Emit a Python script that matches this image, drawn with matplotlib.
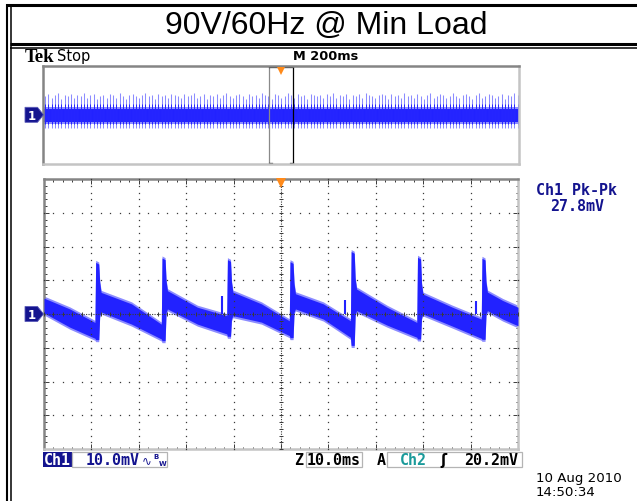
import numpy as np
import matplotlib
matplotlib.use("Agg")
import matplotlib.pyplot as plt
from matplotlib.patches import Rectangle, Polygon

# ---------------- acquisition data ----------------
# main (zoomed) window: 10 ms/div, 10 mV/div, 100 ms across the screen
spike_ms      = [10.9, 24.9, 38.7, 51.9, 64.8, 78.8, 92.4]
spike_peak_mv = [15.3, 16.6, 16.1, 15.5, 18.5, 16.8, 16.5]
spike_foot_mv = [-7.6, -7.9, -6.6, -7.0, -9.3, -7.4, -7.5]
pre_top_mv    = [-2.5, -3.0, -0.5, -2.0, -2.0, -2.5, -1.5]
pre_bot_mv    = [-7.2, -7.4, -5.9, -6.4, -6.9, -6.9, -7.2]
post_top_mv   = [6.4, 6.9, 6.5, 6.0, 7.4, 5.9, 6.5]
post_bot_mv   = [0.6, 1.5, -0.5, 1.5, 1.0, 0.0, 1.0]
# ripple band half-way through each segment (segment 0 is before the first spike)
mid_top_mv    = [1.5, 3.0, 2.0, 3.0, 3.0, 2.0, 2.0, 4.0]
mid_bot_mv    = [-3.9, -3.0, -3.0, -2.4, -1.5, -3.3, -3.6, -1.5]
start_band_mv = [4.7, 0.3]
end_band_mv   = [2.0, -3.5]
precursor_ms  = [37.5, 63.5, 91.1]
precursor_mv  = [5.3, 4.1, 4.0]

# record overview: 200 ms/div, 2 s record
overview_first_spike_ms = 8.9
overview_period_ms = 13.6
overview_peak_mv = [
    15, 17, 14, 16, 18, 13, 16, 15, 17, 14, 16, 15, 18, 14, 16, 17, 13, 15, 16, 14, 17,
    16, 14, 18, 15, 13, 16, 17, 15, 14, 16, 18, 15, 16, 13, 17, 15, 16, 14, 17, 16, 15,
    14, 17, 15, 16, 18, 14, 15, 17, 13, 16, 15, 17, 14, 16, 18, 15, 14, 16, 17, 15, 13,
    17, 15, 16, 14, 18, 16, 15, 13, 17, 16, 14, 15, 18, 16, 14, 17, 15, 16, 13, 17, 16,
    15, 16, 14, 17, 15, 18, 14, 16, 15, 17, 13, 16, 15, 17, 14, 18, 16, 15, 14, 16, 17,
    16, 13, 17, 15, 16, 14, 18, 15, 16, 14, 17, 15, 13, 16, 18, 14, 15, 17, 16, 14, 15,
    18, 15, 14, 16, 17, 15, 13, 16, 18, 14, 15, 17, 16, 14, 15, 17, 13, 16, 15, 18, 16,
]
overview_band_mv = [-6.0, 5.0]
zoom_window_ms = [950, 1050]

# ---------------- styling ----------------
TRACE = "#2222ff"
TRACE_LIGHT = "#8c8cff"
NAVY = "#14148f"
TEAL = "#1a9a9a"
ORANGE = "#ff8a1a"
GRID = "#3a3a3a"

W, H = 637, 502
fig = plt.figure(figsize=(W / 100, H / 100), dpi=100)
fig.patch.set_facecolor("white")


def px_axes(l, t, r, b, **kw):
    return fig.add_axes([l / W, 1 - b / H, (r - l) / W, (b - t) / H], **kw)


bg = fig.add_axes([0, 0, 1, 1], zorder=0)
bg.set_xlim(0, W)
bg.set_ylim(H, 0)
bg.axis("off")

# page frame
bg.plot([6, W], [6.3, 6.3], color="black", lw=2.2, solid_capstyle="butt")
bg.plot([7.3, 7.3], [5, H], color="black", lw=1.5, solid_capstyle="butt")
bg.plot([10.8, 10.8], [5, H], color="black", lw=1.1, solid_capstyle="butt")
bg.plot([10, W], [45.0, 45.0], color="black", lw=2.2, solid_capstyle="butt")
bg.plot([10, W], [49.2, 49.2], color="black", lw=1.1, solid_capstyle="butt")
bg.text(326, 25.5, "90V/60Hz @ Min Load", ha="center", va="center",
        fontsize=23, family="Liberation Sans", color="black")

# header
bg.text(25, 57, "Tek", ha="left", va="center", fontsize=13.5, fontweight="bold",
        family="Liberation Serif", color="black")
bg.text(57, 56.5, "Stop", ha="left", va="center", fontsize=10.5,
        family="DejaVu Sans", color="black")
bg.text(326, 56, "M 200ms", ha="center", va="center", fontsize=9.3,
        fontweight="bold", family="DejaVu Sans", color="black")


def bevel(axis, dark="#858585", light="#c4c4c4", lw=1.8):
    for side in ("top", "left"):
        axis.spines[side].set_color(dark)
        axis.spines[side].set_linewidth(lw)
    for side in ("bottom", "right"):
        axis.spines[side].set_color(light)
        axis.spines[side].set_linewidth(lw)


# ---------------- record overview ----------------
ov = px_axes(43, 66.7, 519, 165, zorder=2)
ov.set_xlim(0, 2000)
ov.set_ylim(-40, 40)
ov.set_xticks([])
ov.set_yticks([])
bevel(ov)

ov_t = [overview_first_spike_ms + k * overview_period_ms for k in range(len(overview_peak_mv))]
ov.vlines(ov_t, -10.5, overview_peak_mv, color=TRACE_LIGHT, lw=0.75)
ov.fill_between([0, 2000], overview_band_mv[0] - 1.5, overview_band_mv[1] + 1.5,
                color=TRACE_LIGHT, lw=0)
ov.fill_between([0, 2000], overview_band_mv[0], overview_band_mv[1], color=TRACE, lw=0)
ov.vlines(ov_t, overview_band_mv[0] - 1.5, overview_band_mv[1] + 4, color=TRACE, lw=0.7)

# zoom window marker
z0, z1 = zoom_window_ms
ov.plot([z0, z0], [-39, 39], color="#8a8a8a", lw=0.9, clip_on=False)
ov.plot([z1, z1], [-39, 39], color="black", lw=0.9, clip_on=False)
ov.plot([z0, z1], [39, 39], color="black", lw=0.9, clip_on=False)
ov.plot([z0, z0 + 12], [-39, -39], color="black", lw=0.9, clip_on=False)
ov.plot([z1 - 12, z1], [-39, -39], color="black", lw=0.9, clip_on=False)
ov.plot([(z0 + z1) / 2], [36.0], marker="v", markersize=6, color=ORANGE,
        markeredgewidth=0, clip_on=False, zorder=5)

# ---------------- zoomed window ----------------
ax = px_axes(44, 180, 518, 450, zorder=2)
ax.set_xlim(0, 100)
ax.set_ylim(-40, 40)
bevel(ax)
ax.set_xticks(np.arange(0, 101, 10))
ax.set_xticks(np.arange(0, 101, 2), minor=True)
ax.set_yticks(np.arange(-40, 41, 10))
ax.set_yticks(np.arange(-40, 41, 2), minor=True)
ax.tick_params(which="both", direction="in", top=True, right=True,
               labelbottom=False, labelleft=False, color=GRID, width=0.7)
ax.tick_params(which="major", length=3.5)
ax.tick_params(which="minor", length=1.8)

# envelope of the ripple band
t = [0.0]
hi = [start_band_mv[0]]
lo = [start_band_mv[1]]
for i, ts in enumerate(spike_ms):
    tm = (t[-1] + ts) / 2
    t += [tm, ts - 0.15]
    hi += [mid_top_mv[i], pre_top_mv[i]]
    lo += [mid_bot_mv[i], pre_bot_mv[i]]
    t += [ts, ts + 0.65, ts + 0.85, ts + 1.15]
    hi += [spike_peak_mv[i], spike_peak_mv[i] - 0.5, post_top_mv[i] + 3.0, post_top_mv[i]]
    lo += [spike_foot_mv[i], spike_foot_mv[i], post_bot_mv[i] - 1.0, post_bot_mv[i]]
tm = (t[-1] + 100) / 2
t += [tm, 100.0]
hi += [mid_top_mv[-1], end_band_mv[0]]
lo += [mid_bot_mv[-1], end_band_mv[1]]
t, hi, lo = np.array(t), np.array(hi), np.array(lo)

ax.fill_between(t, lo - 0.6, hi + 0.6, color=TRACE_LIGHT, lw=0, zorder=2)
ax.fill_between(t, lo, hi, color=TRACE, lw=0, zorder=3)
ax.vlines(precursor_ms, 0, precursor_mv, color=TRACE, lw=1.5, zorder=3)

# graticule: dotted divisions, dense centre cross
dot = dict(linestyle="none", marker="s", markersize=0.9, color=GRID,
           markeredgewidth=0, zorder=6, clip_on=False)
minor_y = np.arange(-40, 41, 2)
minor_x = np.arange(0, 101, 2)
for gx in range(10, 100, 10):
    if gx != 50:
        ax.plot(np.full_like(minor_y, gx, dtype=float), minor_y, **dot)
for gy in range(-30, 40, 10):
    if gy != 0:
        ax.plot(minor_x, np.full_like(minor_x, gy, dtype=float), **dot)
ax.axhline(0, color=GRID, lw=0.8, linestyle=(0, (1, 1.2)), zorder=6)
ax.axvline(50, color=GRID, lw=0.8, linestyle=(0, (1, 1.2)), zorder=6)
ax.plot(minor_x, np.zeros_like(minor_x), linestyle="none", marker="|",
        markersize=3.5, color=GRID, markeredgewidth=0.7, zorder=6)
ax.plot(np.full_like(minor_y, 50), minor_y, linestyle="none", marker="_",
        markersize=3.5, color=GRID, markeredgewidth=0.7, zorder=6)
ax.plot([50], [38.8], marker="v", markersize=7, color=ORANGE,
        markeredgewidth=0, clip_on=False, zorder=7)

# ---------------- overlay: markers and readouts ----------------
fg = fig.add_axes([0, 0, 1, 1], zorder=10)
fg.set_xlim(0, W)
fg.set_ylim(H, 0)
fg.axis("off")
fg.patch.set_alpha(0)

for cy in (115.8, 315.0):
    fg.add_patch(Polygon([(25, cy - 7.5), (37.5, cy - 7.5), (43.5, cy),
                          (37.5, cy + 7.5), (25, cy + 7.5)],
                         closed=True, facecolor=NAVY, edgecolor="#5a5ab8", lw=0.6))
    fg.text(31.5, cy + 0.5, "1", ha="center", va="center", color="white",
            fontsize=8.5, fontweight="bold", family="DejaVu Sans")

mono = dict(family="DejaVu Sans Mono", fontsize=10.8, fontweight="bold")
pkpk = max(hi.max(), max(precursor_mv)) - lo.min()
fg.text(577, 191, "Ch1 Pk-Pk", ha="center", va="center", color=NAVY, **mono)
fg.text(577, 206.5, f"{pkpk:.1f}mV", ha="center", va="center", color=NAVY, **mono)

# bottom status line
fg.add_patch(Rectangle((42.7, 453), 29.6, 14.8, facecolor=NAVY, edgecolor="none"))
fg.text(57.5, 460.8, "Ch1", ha="center", va="center", color="white", **mono)
box = dict(facecolor="none", edgecolor="#b4b4b4", lw=0.9)
fg.add_patch(Rectangle((72.3, 453), 94.4, 14.8, **box))
fg.text(86.0, 460.8, "10.0mV", ha="left", va="center", color=NAVY, **mono)
fg.text(142.0, 460.5, "\u223f", ha="left", va="center", color=NAVY,
        fontsize=8.5, family="DejaVu Sans")
fg.text(153.6, 457.0, "B", ha="left", va="center", color=NAVY, fontsize=5,
        fontweight="bold", family="DejaVu Sans")
fg.text(159.2, 464.0, "W", ha="left", va="center", color=NAVY, fontsize=5,
        fontweight="bold", family="DejaVu Sans")

fg.text(299, 460.8, "Z", ha="center", va="center", color="black", **mono)
fg.add_patch(Rectangle((305.7, 453), 56.3, 14.8, **box))
fg.text(334, 460.8, "10.0ms", ha="center", va="center", color="black", **mono)
fg.text(381, 460.8, "A", ha="center", va="center", color="black", **mono)
fg.add_patch(Rectangle((386.7, 453), 135, 14.8, **box))
fg.text(400, 460.8, "Ch2", ha="left", va="center", color=TEAL, **mono)
fg.text(443, 460.8, "\u0283", ha="center", va="center", color="black",
        fontsize=10.5, fontweight="bold", family="DejaVu Sans")
fg.text(518.5, 460.8, "20.2mV", ha="right", va="center", color="black", **mono)

fg.text(536, 479, "10 Aug 2010", ha="left", va="center", color="black",
        fontsize=9.6, family="DejaVu Sans")
fg.text(536, 493, "14:50:34", ha="left", va="center", color="black",
        fontsize=9.6, family="DejaVu Sans")

fig.savefig("out.png", dpi=100, facecolor="white")
